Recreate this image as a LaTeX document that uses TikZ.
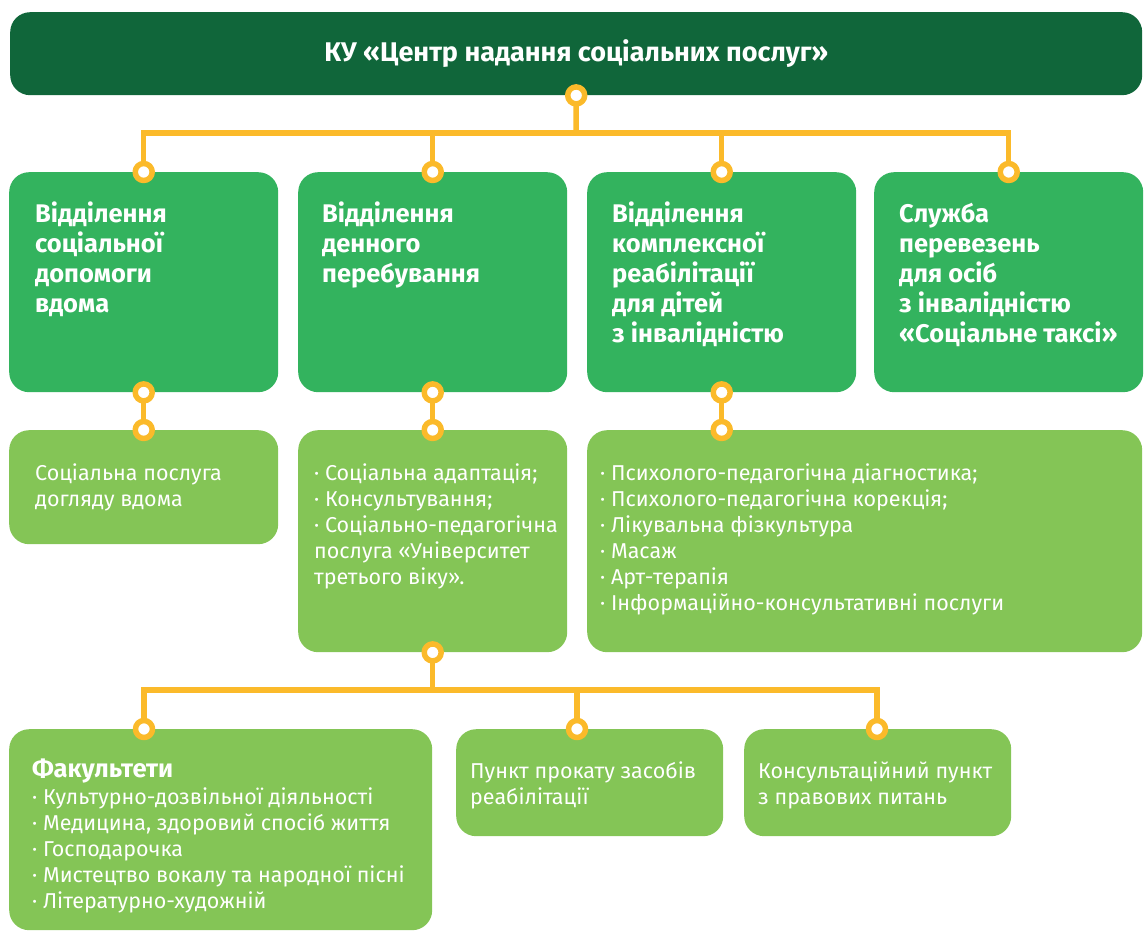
\documentclass[tikz,border=0pt]{standalone}
\usepackage{fontspec}
\setmainfont{Fira Sans}
\usetikzlibrary{positioning}
\usetikzlibrary{backgrounds}
\definecolor{topgreen}{HTML}{10663A}
\definecolor{deptgreen}{HTML}{33B35E}
\definecolor{servgreen}{HTML}{84C556}
\definecolor{linkorange}{HTML}{FBBA2A}
\newcommand{\linesof}[1]{\begin{tabular}[t]{@{}l@{}}#1\end{tabular}}
\tikzstyle{every node}=[font=\fontsize{21.5}{26}\selectfont]
\tikzstyle{every path}=[line cap=round,line join=round]
\tikzstyle{box}=[rectangle, rounded corners=20pt, anchor=north west, inner sep=0pt]
\tikzstyle{txt}=[anchor=base west, inner sep=0pt, text=white]
\tikzstyle{head}=[txt, font=\bfseries\fontsize{25.5}{30}\selectfont]
\tikzstyle{ring}=[circle, draw=linkorange, fill=white, line width=5.5pt, minimum size=17pt, inner sep=0pt]
\tikzstyle{link}=[draw=linkorange, line width=5.5pt, line cap=butt, line join=miter]

\begin{document}
\begin{tikzpicture}[x=1pt,y=-1pt]
  \useasboundingbox (0,0) rectangle (1146,931);
  % centre
  \node[box, fill=topgreen, minimum width=1132pt, minimum height=83pt, text=white,
    font=\bfseries\fontsize{27}{30}\selectfont] (centre) at (10,12)
    {КУ «Центр надання соціальних послуг»};
  \node[ring] (centredot) at (centre.south) {};

  % departments
  \foreach \xx/\nm in {9/dep1, 298/dep2, 587/dep3, 874/dep4}
   {
    \node[box, fill=deptgreen, minimum width=269pt, minimum height=220pt] (\nm) at (\xx,172) {};
    \node[ring] (\nm in) at (\nm.north) {};
   }
  \node[head] (dep1txt) at ([shift={(26,50)}]dep1.north west)
    {\linesof{Відділення\\соціальної\\допомоги\\вдома}};
  \node[head] (dep2txt) at ([shift={(24,50)}]dep2.north west)
    {\linesof{Відділення\\денного\\перебування}};
  \node[head] (dep3txt) at ([shift={(25,50)}]dep3.north west)
    {\linesof{Відділення\\комплексної\\реабілітації\\для дітей\\з інвалідністю}};
  \node[head] (dep4txt) at ([shift={(25,50)}]dep4.north west)
    {\linesof{Служба\\перевезень\\для осіб\\з інвалідністю\\«Соціальне таксі»}};

  % services
  \node[box, fill=servgreen, minimum width=269pt, minimum height=114pt] (servA) at (9,430) {};
  \node[box, fill=servgreen, minimum width=269pt, minimum height=222pt] (servB) at (298,430) {};
  \node[box, fill=servgreen, minimum width=555pt, minimum height=222pt] (servC) at (587,430) {};
  \foreach \nm/\sv in {dep1/servA, dep2/servB, dep3/servC}
   {
    \node[ring] (\nm out) at (\nm.south) {};
    \node[ring] (\sv in) at (\sv.north -| \nm.south) {};
   }
  \node[txt] (servAtxt) at ([shift={(26,50)}]servA.north west)
    {\linesof{Соціальна послуга\\догляду вдома}};
  \node[txt] (servBtxt) at ([shift={(16,50)}]servB.north west)
    {\linesof{· Соціальна адаптація;\\· Консультування;\\· Соціально-педагогічна\\послуга «Університет\\третього віку».}};
  \node[txt] (servCtxt) at ([shift={(13,50)}]servC.north west)
    {\linesof{· Психолого-педагогічна діагностика;\\· Психолого-педагогічна корекція;\\· Лікувальна фізкультура\\· Масаж\\· Арт-терапія\\· Інформаційно-консультативні послуги}};
  \node[ring] (servBout) at (servB.south) {};

  % university units
  \node[box, fill=servgreen, minimum width=423pt, minimum height=201pt] (faculty) at (9,729) {};
  \node[box, fill=servgreen, minimum width=267pt, minimum height=107pt] (rental) at (456,729) {};
  \node[box, fill=servgreen, minimum width=267pt, minimum height=107pt] (legal) at (744,729) {};
  \node[ring] (facultyin) at (144,729) {};
  \node[ring] (rentalin) at (577,729) {};
  \node[ring] (legalin) at (877,729) {};
  \node[head] (facultyhead) at ([shift={(23,48)}]faculty.north west) {Факультети};
  \node[txt] (facultytxt) at ([shift={(23,75)}]faculty.north west)
    {\linesof{· Культурно-дозвільної діяльності\\· Медицина, здоровий спосіб життя\\· Господарочка\\· Мистецтво вокалу та народної пісні\\· Літературно-художній}};
  \node[txt] (rentaltxt) at ([shift={(14,49)}]rental.north west)
    {\linesof{Пункт прокату засобів\\реабілітації}};
  \node[txt] (legaltxt) at ([shift={(14,49)}]legal.north west)
    {\linesof{Консультаційний пункт\\з правових питань}};

  % links
  \begin{pgfonlayer}{background}
    \coordinate (bus1) at (576,133);
    \coordinate (bus2) at (432,690);
    \draw[link] (centredot.center) -- (bus1);
    \draw[link] (dep1in.center) |- (bus1) -| (dep4in.center);
    \draw[link] (dep2in.center) |- (bus1) -| (dep3in.center);
    \draw[link] (dep1out.center) -- (servAin.center);
    \draw[link] (dep2out.center) -- (servBin.center);
    \draw[link] (dep3out.center) -- (servCin.center);
    \draw[link] (servBout.center) -- (bus2 -| servBout);
    \draw[link] (facultyin.center) |- (bus2 -| servBout) -| (legalin.center);
    \draw[link] (rentalin.center) -- (rentalin |- bus2);
  \end{pgfonlayer}
\end{tikzpicture}
\end{document}
